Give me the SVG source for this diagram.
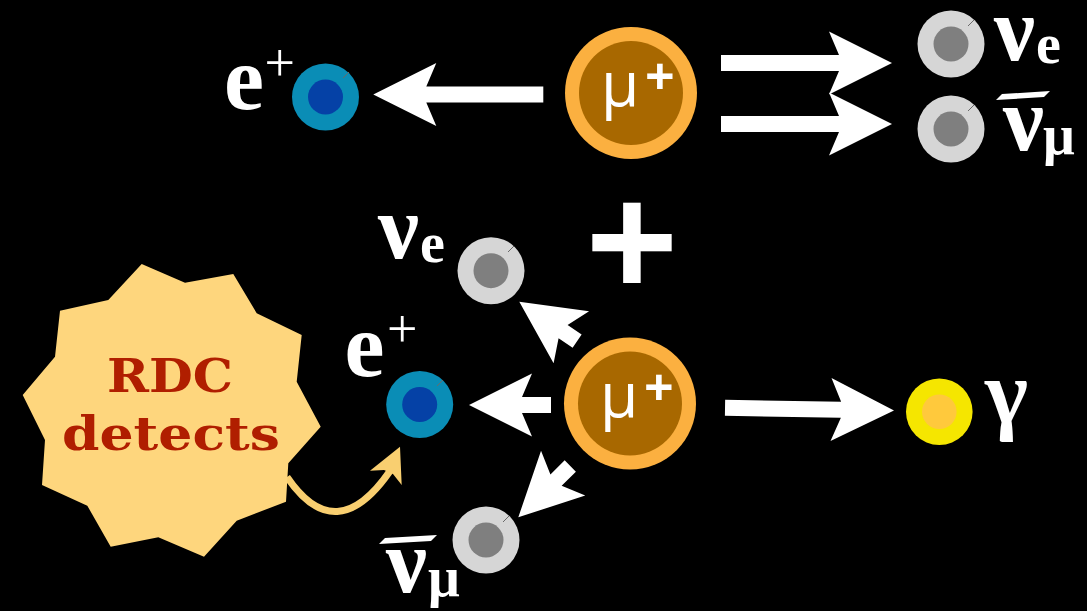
<svg xmlns="http://www.w3.org/2000/svg" width="1087" height="611" viewBox="0 0 1087 611">
<style>
.arrow{fill:#ffffff}
.lbl{font-family:"Liberation Serif","Times New Roman",serif;font-weight:bold;fill:#ffffff}
.sup{font-family:"Liberation Serif","Times New Roman",serif;font-weight:normal;fill:#ffffff}
.mu{font-family:"Open Sans","Noto Sans",sans-serif;fill:#ffffff}
.mup{font-family:"Open Sans","Noto Sans",sans-serif;font-weight:bold;fill:#ffffff}
.nuo{fill:#d6d6d6}.nui{fill:#7f7f7f}
.eo{fill:#0a8db6}.ei{fill:#0541a6}
.muo{fill:#fbb040}.mui{fill:#a86800}
.go{fill:#f5e600}.gi{fill:#ffc93c}
.tick{stroke:#6a6a6a;stroke-width:1}
.rdc{font-family:"DejaVu Serif","Liberation Serif",serif;font-weight:bold;fill:#b01e00;font-size:47px}
</style>
<rect x="0" y="0" width="1087" height="611" fill="#000000"/>

<g id="connectors">
  <polygon class="arrow" transform="translate(373.3,94.5) rotate(180)" points="0,0 -63,-31.5 -53,-8 -170,-8 -170,8 -53,8 -63,31.5"/>
  <polygon class="arrow" transform="translate(892,63)" points="0,0 -63,-31.5 -53,-8 -171,-8 -171,8 -53,8 -63,31.5"/>
  <polygon class="arrow" transform="translate(892,124)" points="0,0 -63,-31.5 -53,-8 -171,-8 -171,8 -53,8 -63,31.5"/>
  <polygon class="arrow" transform="translate(519.3,301.7) rotate(214.3)" points="0,0 -63,-31.5 -53,-8 -70,-8 -70,8 -53,8 -63,31.5"/>
  <polygon class="arrow" transform="translate(469,405) rotate(180)" points="0,0 -63,-31.5 -53,-8 -82,-8 -82,8 -53,8 -63,31.5"/>
  <polygon class="arrow" transform="translate(518.3,517.3) rotate(135.4)" points="0,0 -63,-31.5 -53,-8 -73,-8 -73,8 -53,8 -63,31.5"/>
  <polygon class="arrow" transform="translate(894,410.5) rotate(0.9)" points="0,0 -63,-31.5 -53,-8 -169,-8 -169,8 -53,8 -63,31.5"/>
  <path d="M 287,477 Q 336,549 390,471" fill="none" stroke="#f9cf70" stroke-width="7"/>
  <polygon points="400,446.7 370,470.7 384,470 393,474 401.7,485" fill="#f9cf70"/>
</g>

<g id="muon-top">
  <circle class="muo" cx="631" cy="93" r="66"/>
  <circle class="mui" cx="631" cy="93" r="52"/>
  <text class="mu" x="601" y="106" font-size="62">μ</text>
  <text class="mup" x="645" y="95" font-size="52">+</text>
</g>

<g id="positron-top">
  <circle class="eo" cx="325.5" cy="97" r="33.5"/>
  <circle class="ei" cx="325.5" cy="97" r="17.5"/>
  <line class="tick" x1="343" y1="78" x2="349" y2="72"/>
  <text class="lbl" x="224" y="109" font-size="90">e</text>
  <text class="sup" x="264.5" y="81" font-size="54">+</text>
</g>

<g id="nue-top">
  <circle class="nuo" cx="951" cy="44" r="33.5"/>
  <circle class="nui" cx="951" cy="44" r="17.5"/>
  <line class="tick" x1="968" y1="26" x2="974" y2="20"/>
  <text class="lbl" x="994" y="60" font-size="92">ν</text>
  <text class="lbl" x="1036" y="62.5" font-size="56">e</text>
</g>

<g id="numubar-top">
  <circle class="nuo" cx="951" cy="129" r="33.5"/>
  <circle class="nui" cx="951" cy="129" r="17.5"/>
  <line class="tick" x1="968" y1="111" x2="974" y2="105"/>
  <polygon points="996,100 1002,94 1050,91 1044,97" fill="#ffffff"/>
  <text class="lbl" x="1003" y="150" font-size="92">ν</text>
  <text class="lbl" x="1043" y="154" font-size="56">μ</text>
</g>

<g id="plus">
  <text x="632" y="295" font-size="158" font-family="Liberation Sans, Arial, sans-serif" font-weight="bold" fill="#ffffff" text-anchor="middle">+</text>
</g>

<g id="muon-bottom">
  <circle class="muo" cx="630" cy="403.5" r="66"/>
  <circle class="mui" cx="630" cy="403.5" r="52"/>
  <text class="mu" x="600" y="416.5" font-size="62">μ</text>
  <text class="mup" x="644" y="405.5" font-size="52">+</text>
</g>

<g id="nue-bottom">
  <circle class="nuo" cx="491" cy="270.7" r="33.5"/>
  <circle class="nui" cx="491" cy="270.7" r="17.5"/>
  <line class="tick" x1="508" y1="252" x2="514" y2="246"/>
  <text class="lbl" x="378" y="258" font-size="92">ν</text>
  <text class="lbl" x="420" y="262" font-size="56">e</text>
</g>

<g id="positron-bottom">
  <circle class="eo" cx="419.7" cy="404.5" r="33.5"/>
  <circle class="ei" cx="419.7" cy="404.5" r="17.5"/>
  <line class="tick" x1="437" y1="386" x2="443" y2="380"/>
  <text class="lbl" x="344.5" y="375.5" font-size="90">e</text>
  <text class="sup" x="387" y="346.5" font-size="54">+</text>
</g>

<g id="numubar-bottom">
  <circle class="nuo" cx="486" cy="540" r="33.5"/>
  <circle class="nui" cx="486" cy="540" r="17.5"/>
  <line class="tick" x1="503" y1="522" x2="509" y2="516"/>
  <polygon points="379,544 385,538 437,535 431,541" fill="#ffffff"/>
  <text class="lbl" x="386" y="592" font-size="92">ν</text>
  <text class="lbl" x="428" y="596" font-size="56">μ</text>
</g>

<g id="photon">
  <circle class="go" cx="939.3" cy="411.7" r="33.3"/>
  <circle class="gi" cx="939.3" cy="411.7" r="17.3"/>
  <text class="lbl" x="985" y="423" font-size="92">γ</text>
</g>

<g id="rdc">
  <polygon fill="#fed67d" points="141.7,264 185,282.7 233.3,274 256.7,313.3 301.7,335 296.7,381.7 320.7,426.7 288.3,463.3 286,501.7 236.7,520.7 204,556.7 158.3,537.3 110.7,546.7 87.3,505.7 42,485 45,440 22.7,395 55,356.7 60,310.7 108.3,300"/>
  <text class="rdc" x="170" y="391.7" text-anchor="middle" textLength="126" lengthAdjust="spacingAndGlyphs">RDC</text>
  <text class="rdc" x="171" y="450" text-anchor="middle" textLength="218" lengthAdjust="spacingAndGlyphs">detects</text>
</g>
</svg>
